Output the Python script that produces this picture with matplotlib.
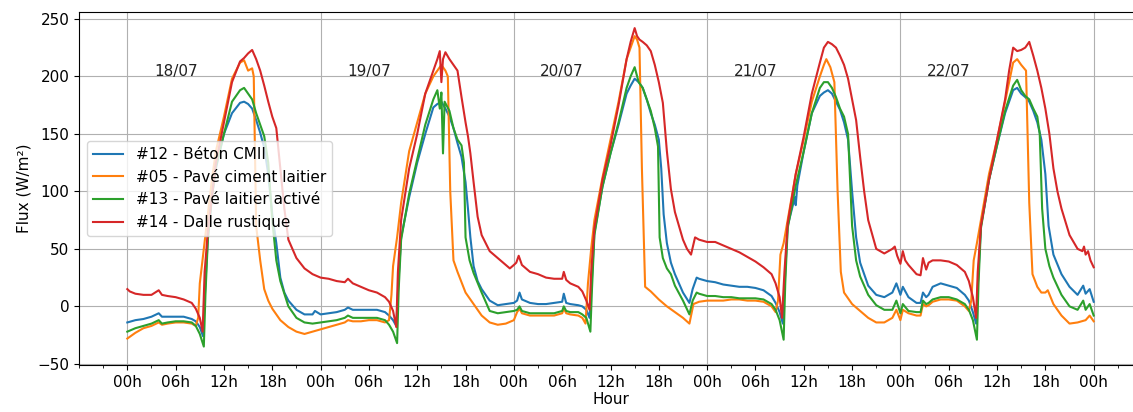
import matplotlib
matplotlib.use("Agg")
import matplotlib.pyplot as plt
from matplotlib.ticker import FixedLocator, MultipleLocator

# ---------------- data (hours since 18/07 00h, flux W/m²) ----------------
labels = ["#12 - Béton CMII", "#05 - Pavé ciment laitier",
          "#13 - Pavé laitier activé", "#14 - Dalle rustique"]
day_labels = ["18/07", "19/07", "20/07", "21/07", "22/07"]
day_label_y = 204

beton_t = [0, 1, 2, 3, 3.9, 4.3, 5, 6, 7, 8, 8.5, 9, 9.4, 9.7, 10, 10.5, 11, 12, 13, 14, 14.5, 15, 15.5, 16, 16.5, 17, 17.5, 18, 18.5, 19, 19.5, 20, 21, 22, 23, 23.3, 24,
           25, 26, 27, 27.4, 28, 29, 30, 31, 32, 32.5, 33, 33.4, 33.7, 34, 35, 36, 37, 38, 38.5, 38.8, 39, 39.5, 40, 40.5, 41, 41.5, 42, 42.3, 42.6, 43, 43.5, 44, 45, 46, 47, 48,
           48.4, 48.7, 49, 50, 51, 52, 53, 54, 54.2, 54.5, 55, 56, 56.5, 57, 57.4, 57.7, 58, 59, 60, 61, 62, 62.5, 63, 63.5, 64, 64.5, 65, 65.5, 66, 66.3, 66.6, 67, 67.5, 68, 69, 69.8, 70.2, 70.7, 71, 72,
           73, 74, 75, 76, 77, 78, 79, 80, 80.5, 81, 81.4, 81.7, 82, 82.9, 83, 83.2, 84, 85, 86, 86.5, 87, 87.5, 88, 88.5, 89, 89.5, 90, 90.5, 91, 92, 93, 94, 95, 95.5, 96,
           96.3, 97, 98, 98.5, 98.8, 99.2, 99.5, 100, 101, 102, 103, 104, 104.5, 105, 105.4, 105.7, 106, 107, 108, 109, 110, 110.5, 111, 111.5, 112, 112.5, 113, 113.5, 114, 114.4, 115, 116, 117, 118, 118.7, 119, 119.5, 120]
beton_v = [-14, -12, -11, -9, -6, -9, -9, -9, -9, -11, -13, -18, -26, 20, 60, 95, 120, 150, 168, 177, 178, 176, 172, 162, 151, 138, 115, 80, 55, 25, 12, 5, -3, -7, -7, -4, -7,
           -6, -5, -3, -1, -3, -3, -3, -3, -5, -8, -12, -17, 25, 60, 95, 125, 150, 173, 176, 177, 178, 172, 165, 155, 142, 130, 108, 85, 60, 35, 22, 15, 5, 1, 2, 3,
           5, 12, 6, 3, 2, 2, 3, 4, 11, 3, 2, 1, 0, -3, -10, 25, 64, 104, 133, 158, 185, 192, 198, 195, 190, 180, 168, 158, 145, 120, 80, 55, 38, 28, 12, 3, 15, 25, 24, 22,
           21, 19, 18, 17, 17, 16, 14, 9, 3, -5, -15, 30, 70, 95, 88, 105, 135, 168, 183, 186, 188, 185, 178, 171, 160, 145, 100, 60, 38, 18, 10, 8, 12, 20, 10,
           17, 8, 3, 3, 12, 8, 10, 17, 20, 18, 16, 10, 5, -5, -15, 30, 70, 110, 140, 168, 188, 190, 185, 182, 178, 170, 160, 145, 115, 70, 45, 28, 17, 10, 18, 11, 15, 4]

pave05_t = [0, 1, 2, 3, 3.9, 4.3, 5, 6, 7, 8, 8.5, 8.8, 9, 9.5, 10, 10.5, 11, 12, 13, 14, 14.5, 15, 15.5, 15.7, 16, 16.5, 17, 17.5, 18, 19, 20, 21, 22, 23, 24,
            25, 26, 27, 27.4, 28, 29, 30, 31, 32, 32.5, 32.8, 33, 33.5, 34, 35, 36, 37, 38, 38.5, 39, 39.5, 39.8, 40.1, 40.5, 41, 42, 43, 44, 45, 46, 47, 48,
            48.4, 48.7, 49, 50, 51, 52, 53, 54, 54.2, 54.5, 55, 56, 56.5, 56.9, 57.2, 57.6, 58, 59, 60, 61, 62, 62.5, 63, 63.3, 63.6, 63.9, 64.3, 65, 66, 67, 68, 69, 69.8, 70.3, 71, 72,
            73, 74, 75, 76, 77, 78, 79, 80, 80.5, 80.8, 81.1, 81.5, 82, 83, 84, 85, 86, 86.5, 86.8, 87.3, 87.8, 88.2, 88.6, 89, 90, 91, 92, 93, 94, 95, 95.5, 96,
            96.3, 97, 98, 98.5, 98.8, 99.2, 99.5, 100, 101, 102, 103, 104, 104.5, 104.8, 105.1, 105.5, 106, 107, 108, 109, 110, 110.5, 111, 111.6, 112, 112.4, 113, 113.5, 114, 114.3, 115, 116, 117, 118, 119, 119.5, 120]
pave05_v = [-28, -23, -19, -17, -14, -16, -15, -14, -14, -15, -17, -10, 20, 50, 80, 110, 135, 165, 198, 212, 214, 205, 207, 200, 70, 40, 15, 5, -2, -12, -18, -22, -24, -22, -20,
            -18, -16, -14, -12, -13, -13, -12, -12, -14, -12, 10, 35, 60, 90, 135, 160, 185, 200, 205, 210, 205, 200, 100, 40, 30, 12, 2, -8, -14, -16, -15, -12,
            -5, -2, -6, -8, -8, -8, -8, -6, -2, -6, -7, -8, -10, -15, 20, 50, 75, 112, 145, 178, 215, 225, 235, 232, 225, 120, 17, 13, 6, 0, -5, -10, -15, 2, 4, 5,
            5, 5, 6, 6, 5, 5, 4, 0, -5, 5, 45, 55, 75, 115, 145, 178, 200, 210, 215, 208, 195, 100, 30, 12, 2, -4, -10, -14, -14, -10, -3, -12,
            -3, -6, -8, -8, 2, 0, 1, 4, 6, 6, 5, 0, -4, 5, 40, 55, 75, 115, 145, 178, 212, 215, 210, 205, 90, 28, 17, 12, 12, 14, 2, -8, -15, -14, -12, -8, -13]

pave13_t = [0, 1, 2, 3, 3.9, 4.3, 5, 6, 7, 8, 8.5, 9, 9.5, 9.7, 10, 10.5, 11, 12, 13, 14, 14.5, 15, 15.5, 16, 16.5, 17, 17.5, 18, 18.5, 19, 20, 21, 22, 23, 24,
            25, 26, 27, 27.4, 28, 29, 30, 31, 32, 32.5, 33, 33.5, 33.7, 34, 35, 36, 37, 38, 38.5, 38.8, 39, 39.2, 39.4, 40, 40.5, 41, 41.5, 41.8, 42, 42.5, 43, 44, 45, 46, 47, 48,
            48.4, 48.7, 49, 50, 51, 52, 53, 54, 54.2, 54.5, 55, 56, 56.5, 57, 57.5, 57.7, 58, 59, 60, 61, 62, 62.5, 63, 63.5, 64, 64.5, 65, 65.5, 65.9, 66.1, 66.5, 67, 67.5, 68, 69, 69.8, 70.2, 70.7, 71, 72,
            73, 74, 75, 76, 77, 78, 79, 80, 80.5, 81, 81.5, 81.7, 82, 83, 84, 85, 86, 86.5, 87, 87.5, 88, 88.5, 89, 89.5, 90, 90.5, 91, 92, 93, 94, 95, 95.5, 96,
            96.3, 97, 98, 98.5, 98.8, 99.2, 99.5, 100, 101, 102, 103, 104, 104.5, 105, 105.5, 105.7, 106, 107, 108, 109, 110, 110.5, 111, 111.5, 112, 112.5, 113, 113.3, 113.6, 114, 114.5, 115, 116, 117, 118, 118.7, 119, 119.5, 120]
pave13_v = [-22, -19, -17, -15, -12, -15, -14, -13, -13, -14, -17, -24, -35, 10, 58, 95, 122, 150, 178, 188, 190, 185, 180, 168, 158, 148, 125, 75, 40, 22, 0, -10, -14, -15, -14,
            -13, -12, -10, -8, -10, -10, -10, -10, -12, -16, -22, -32, 15, 58, 98, 128, 158, 180, 188, 172, 186, 133, 178, 170, 155, 145, 140, 125, 60, 40, 29, 12, -4, -6, -5, -4,
            -3, 0, -4, -6, -6, -6, -6, -4, 0, -4, -5, -5, -7, -10, -22, 15, 62, 104, 133, 160, 190, 200, 208, 195, 190, 180, 170, 155, 139, 60, 42, 33, 28, 18, 5, -7, 5, 12, 11, 9,
            9, 8, 8, 7, 7, 7, 6, 2, -3, -12, -29, 20, 68, 105, 135, 168, 190, 195, 195, 190, 182, 172, 165, 150, 70, 40, 26, 10, 1, -3, -3, 5, -6,
            2, -4, -5, -5, 5, 2, 3, 6, 8, 8, 6, 2, -3, -12, -29, 20, 68, 110, 140, 170, 192, 197, 188, 183, 180, 172, 165, 150, 85, 50, 35, 25, 10, 0, -3, 5, -3, 2, -8]

dalle14_t = [0, 0.3, 1, 2, 3, 3.9, 4.3, 5, 6, 7, 8, 8.5, 9, 9.35, 9.6, 10, 10.5, 11, 12, 13, 14, 14.5, 15, 15.5, 16, 16.5, 17, 17.5, 18, 18.5, 19, 19.5, 20, 21, 22, 23, 24,
             25, 26, 27, 27.4, 28, 29, 30, 31, 32, 32.5, 33, 33.4, 33.6, 34, 35, 36, 37, 38, 38.5, 38.8, 39, 39.2, 39.5, 40, 40.5, 41, 41.5, 42, 42.3, 42.6, 43, 43.5, 44, 45, 46, 47, 47.5, 48,
             48.3, 48.6, 49, 50, 51, 52, 53, 54, 54.2, 54.5, 55, 56, 56.5, 57, 57.4, 57.6, 58, 59, 60, 61, 62, 62.5, 63, 63.3, 63.6, 64, 64.5, 65, 65.5, 66, 66.5, 67, 67.5, 68, 69, 69.5, 70, 70.5, 71, 72,
             73, 74, 75, 76, 77, 78, 79, 80, 80.5, 81, 81.3, 81.6, 82, 83, 84, 85, 86, 86.5, 87, 87.5, 88, 88.5, 89, 89.5, 90, 90.5, 91, 91.5, 92, 93, 94, 95, 95.3, 95.6, 96,
             96.3, 96.6, 97, 98, 98.5, 98.8, 99.2, 99.5, 100, 101, 102, 103, 104, 104.5, 105, 105.4, 105.6, 106, 107, 108, 109, 109.5, 110, 110.5, 111, 111.5, 112, 112.5, 113, 113.5, 114, 114.5, 115, 115.5, 116, 117, 118, 118.6, 118.8, 119, 119.3, 119.6, 120]
dalle14_v = [15, 13, 11, 10, 10, 14, 10, 9, 8, 6, 3, -2, -10, -22, 30, 65, 95, 125, 160, 195, 213, 216, 220, 223, 215, 205, 192, 178, 165, 155, 120, 85, 58, 42, 33, 28, 25,
             24, 22, 21, 24, 20, 17, 14, 12, 8, 4, -4, -18, 30, 75, 120, 150, 185, 205, 215, 222, 195, 215, 221, 215, 210, 205, 182, 160, 148, 133, 108, 78, 62, 48, 42, 36, 33, 36,
             38, 44, 36, 30, 28, 25, 24, 24, 30, 23, 20, 17, 13, 5, -3, 30, 68, 110, 140, 175, 215, 230, 242, 235, 232, 230, 227, 222, 210, 195, 177, 135, 102, 82, 58, 50, 45, 60, 58, 56,
             56, 53, 50, 47, 43, 39, 34, 28, 20, 8, -10, 30, 72, 115, 148, 185, 212, 225, 230, 228, 225, 218, 210, 198, 180, 162, 130, 100, 75, 50, 46, 50, 52, 44, 37,
             48, 40, 36, 28, 27, 42, 32, 38, 40, 40, 39, 36, 30, 22, 8, -10, 30, 70, 110, 145, 180, 205, 225, 222, 223, 225, 230, 218, 205, 190, 172, 150, 120, 100, 85, 62, 50, 48, 52, 45, 48, 40, 34]

series_t = [beton_t, pave05_t, pave13_t, dalle14_t]
series_v = [beton_v, pave05_v, pave13_v, dalle14_v]
colors = ["#1f77b4", "#ff7f0e", "#2ca02c", "#d62728"]

# ---------------- figure ----------------
plt.rcParams["font.family"] = ["DejaVu Sans"]
fig = plt.figure(figsize=(11.33, 4.12), dpi=100)
ax = fig.add_axes([79 / 1133, (412 - 365) / 412, 1063 / 1133, 353 / 412])

for t, v, c, lab in zip(series_t, series_v, colors, labels):
    ax.plot(t, v, color=c, lw=1.5, label=lab)

for i, d in enumerate(day_labels):
    ax.text(24 * i + 6, day_label_y, d, ha="center", va="center", fontsize=11, color="#222222")

ax.set_xlim(-6, 126)
ax.set_ylim(-51, 256)
ax.set_yticks([-50, 0, 50, 100, 150, 200, 250])
major = list(range(0, 121, 6))
ax.xaxis.set_major_locator(FixedLocator(major))
ax.set_xticklabels([f"{h % 24:02d}h" for h in major])
ax.xaxis.set_minor_locator(MultipleLocator(3))
ax.tick_params(axis="both", labelsize=11)
ax.tick_params(axis="x", which="minor", length=2)

ax.yaxis.grid(True, color="#b0b0b0", lw=0.8)
for dline in range(0, 121, 24):
    ax.axvline(dline, color="#b0b0b0", lw=0.8, zorder=0)

ax.set_ylabel("Flux (W/m²)", fontsize=11)
ax.set_xlabel("Hour", fontsize=11, labelpad=2)
ax.legend(loc="center left", fontsize=11)

fig.savefig("out.png", dpi=100)
